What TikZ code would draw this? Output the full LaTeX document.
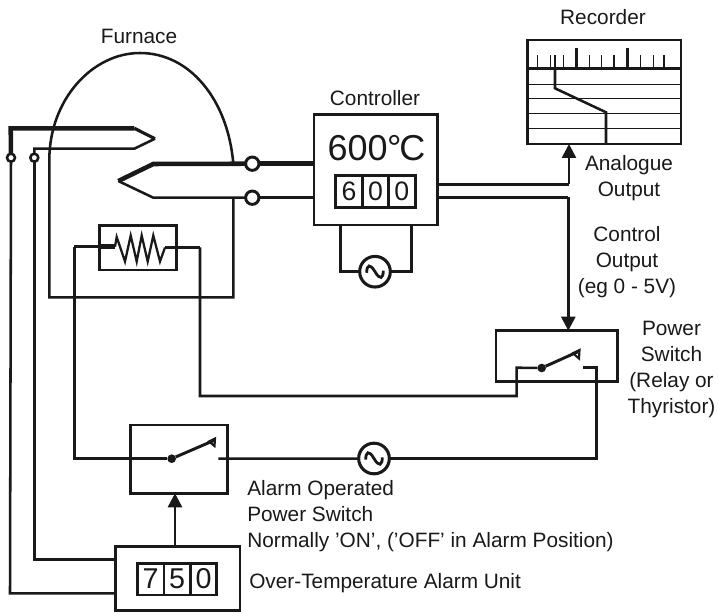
\documentclass[tikz,border=0pt]{standalone}
\usepackage{fontspec}
\setmainfont{Liberation Sans}
\usetikzlibrary{arrows.meta}
\definecolor{ink}{gray}{0.1}
\tikzset{
  x=0.75pt,y=-0.75pt,
  wire/.style={draw=ink,line width=1.9pt},
  thick wire/.style={draw=ink,line width=3.4pt},
  fine/.style={draw=ink,line width=1.1pt},
  arrowed/.style={wire,-{Triangle[length=10.5pt,width=10.5pt]}},
  box/.style={draw=ink,line width=2pt,rectangle,inner sep=0pt,outer sep=0pt,anchor=north west,fill=none},
  cell/.style={box,anchor=north west,text=ink,font=\fontsize{20}{20}\selectfont,align=center},
  label/.style={text=ink,font=\fontsize{15.6}{19.5}\selectfont,inner sep=0pt,align=center},
  leftlabel/.style={label,anchor=west,align=left},
  acsource/.style={circle,draw=ink,line width=2.3pt,fill=white,minimum size=23pt,inner sep=0pt,outer sep=0pt},
  terminal/.style={circle,draw=ink,line width=2.2pt,fill=white,minimum size=10pt,inner sep=0pt,outer sep=0pt},
  smallterm/.style={circle,draw=ink,line width=1.9pt,fill=white,minimum size=6pt,inner sep=0pt,outer sep=0pt},
  pivot/.style={circle,fill=ink,minimum size=6.5pt,inner sep=0pt,outer sep=0pt},
}
\newcommand{\wavesym}[1]{\draw[ink,line width=2.1pt] ([shift={(-6.2pt,-0.8pt)}]#1.center) .. controls +(0pt,6pt) and +(-3.8pt,6.5pt) .. (#1.center) .. controls +(3.8pt,-6.5pt) and +(0pt,-6pt) .. ([shift={(6.2pt,0.8pt)}]#1.center);}
\begin{document}
\begin{tikzpicture}
\useasboundingbox (0,0) rectangle (718,613);
% ----- boxes
\node[box,minimum width=92.5pt,minimum height=83pt] (ctrl) at (314,114.3) {};
\node[box,minimum width=115pt,minimum height=78pt] (rec) at (527.7,40) {};
\node[box,minimum width=91pt,minimum height=38.2pt] (pswitch) at (496,330.7) {};
\node[box,minimum width=72.7pt,minimum height=51.2pt] (aswitch) at (130.7,425) {};
\node[box,minimum width=93.2pt,minimum height=48pt] (alarm) at (115.7,546.7) {};
\node[box,minimum width=58pt,minimum height=33.2pt] (heater) at (99.3,225.7) {};
% ----- displays
\node[cell,minimum width=20pt,minimum height=24pt] (d1) at (335.7,175.7) {6};
\node[cell,minimum width=19.2pt,minimum height=24pt] (d2) at (362.7,175.7) {0};
\node[cell,minimum width=20.2pt,minimum height=24pt] (d3) at (388.3,175.7) {0};
\node[cell,minimum width=20pt,minimum height=23.7pt,font=\fontsize{21.5}{22}\selectfont] (a1) at (137.3,563.3) {7};
\node[cell,minimum width=19.8pt,minimum height=23.7pt,font=\fontsize{21.5}{22}\selectfont] (a2) at (164,563.3) {5};
\node[cell,minimum width=19.8pt,minimum height=23.7pt,font=\fontsize{21.5}{22}\selectfont] (a3) at (190.4,563.3) {0};
\node[text=ink,inner sep=0pt,font=\fontsize{27}{28}\selectfont] (temp) at (376.5,148) {600\kern-0.5pt°\kern-1.5pt C};
% ----- furnace
\coordinate (fBL) at (49.3,297.3);
\coordinate (fBR) at (233.3,297.3);
\coordinate (fTL) at (49.3,160);
\coordinate (fTR) at (233.3,163.7);
\coordinate (fTop) at (140,53);
\coordinate (fR2) at (233.3,197.7);
\draw[wire] (fTR) .. controls (228,100) and (190,53) .. (fTop) .. controls (92,53) and (49.3,100) .. (fTL) -- (fBL) -- (fBR) -- (fR2);
% ----- control thermocouple
\node[terminal] (t1) at (252.3,163.7) {};
\node[terminal] (t2) at (252.3,197.7) {};
\coordinate (cTip) at (118.3,181);
\coordinate (cUp) at (153.3,164);
\coordinate (cLo) at (153.3,197.7);
\draw[thick wire] (t1) -- (cUp) -- (cTip);
\draw[wire] (cTip) -- (cLo) -- (t2);
\draw[thick wire] (t1) -- (ctrl.west |- t1);
\draw[wire] (t2) -- (ctrl.west |- t2);
% ----- over-temperature thermocouple
\node[smallterm] (s1) at (11,157.7) {};
\node[smallterm] (s2) at (34.3,157.7) {};
\coordinate (oCorner) at (10.7,128.3);
\coordinate (oUp) at (134.3,128.3);
\coordinate (oTip) at (155,138.7);
\coordinate (oLo) at (134.3,148.7);
\coordinate (oCorner2) at (34.3,148.7);
\coordinate (aL1) at (10,593.3);
\coordinate (aL2) at (34.3,559.3);
\draw[thick wire] (s1) -- (oCorner) -- (oUp);
\draw[thick wire,line width=2.4pt] (oUp) -- (oTip);
\draw[wire] (oTip) -- (oLo) -- (oCorner2) -- (s2);
\draw[wire] (s1) -- (aL1) -- (alarm.west |- aL1);
\draw[wire] (s2) -- (aL2) -- (alarm.west |- aL2);
% ----- heater
\coordinate (hL) at (115,246.7);
\coordinate (hR) at (165,247.5);
\coordinate (hLout) at (74.3,246.7);
\coordinate (hRout) at (200,247.5);
\draw[wire] (hLout) -- (hL);
\draw[thick wire] (99.3,246.7) -- (hL);
\draw[ink,line width=1.7pt] (hL) -- (116.7,237) -- (125,261.5) -- (130.7,235.5) -- (136.7,261.5) -- (141.7,235.5) -- (147.7,261.5) -- (153.3,235.5) -- (160,261.5) -- (hR);
\draw[wire] (hR) -- (hRout);
% ----- AC sources
\node[acsource] (acC) at (375,271.7) {};
\node[acsource] (acA) at (374,458.5) {};
\wavesym{acC}
\wavesym{acA}
\coordinate (cPL) at (340.7,271.7);
\coordinate (cPR) at (411.7,271.7);
\draw[wire] (acC) -- (cPL) -- (cPL |- ctrl.south);
\draw[wire] (acC) -- (cPR) -- (cPR |- ctrl.south);
% ----- recorder inside
\draw[draw=ink,line width=2.4pt] (rec.west |- 0,68.3) -- (rec.east |- 0,68.3);
\foreach \y in {84.3,98.7,113.3,128.3} \draw[fine] (rec.west |- 0,\y) -- (rec.east |- 0,\y);
\foreach \x in {537.7,550.7,555,563.7,589.3,601.7,614,640.7,653.3,664}{\draw[fine] (\x,55) -- (\x,68.3);}
\draw[wire] (576.7,47.7) -- (576.7,68.3);
\draw[wire] (627.3,47.7) -- (627.3,68.3);
\draw[wire] (555,68.3) -- (555,88.3) -- (606,112.3) -- (606,144.3);
% ----- outputs
\coordinate (aoBend) at (569,184.3);
\coordinate (coBend) at (568.3,197.3);
\draw[wire] (ctrl.east |- aoBend) -- (aoBend);
\draw[arrowed] (aoBend) -- (aoBend |- rec.south);
\draw[wire] (ctrl.east |- coBend) -- (coBend);
\draw[arrowed] (coBend) -- (coBend |- pswitch.north);
% ----- power switch
\node[pivot] (pp) at (541.7,368) {};
\coordinate (pArm) at (578,351.7);
\coordinate (pC) at (583,367.7);
\coordinate (pCb) at (596.7,367.7);
\coordinate (pW) at (516.7,367.7);
\coordinate (pWb) at (516.7,396);
\coordinate (pD) at (596.7,458.5);
\draw[draw=ink,line width=2.2pt] (pp) -- (pArm);
\draw[ink,line width=1.6pt] (573,353.3) -- (579.5,350) -- (579,358.5) -- cycle;
\draw[wire] (pp) -- (pW) -- (pWb) -- (hRout |- pWb) -- (hRout);
\draw[wire] (pC) -- (pCb) -- (pD) -- (acA);
% ----- alarm switch
\node[pivot] (ap) at (171.7,458.7) {};
\coordinate (aArm) at (215,440);
\coordinate (aC) at (218.3,458.7);
\coordinate (aCorner) at (74.3,458.7);
\draw[draw=ink,line width=2.2pt] (ap) -- (aArm);
\draw[ink,line width=1.6pt] (209,441.5) -- (215,438.5) -- (214.5,446) -- cycle;
\draw[wire] (ap) -- (aCorner) -- (hLout);
\draw[wire] (aC) -- (acA);
\draw[arrowed] (alarm.north -| 175,0) -- (aswitch.south -| 175,0);
% ----- labels
\node[label] (lF) at (139,36) {Furnace};
\node[label] (lC) at (375,98) {Controller};
\node[label] (lR) at (603,17) {Recorder};
\node[label] (lA) at (629,178) {Analogue\\Output};
\node[label] (lO) at (627,262) {Control\\Output\\(eg 0 - 5V)};
\node[label] (lP) at (671.5,369.5) {Power\\Switch\\(Relay or\\Thyristor)};
\node[leftlabel] (lS) at (247,516) {Alarm Operated\\Power Switch\\Normally ’ON’, (’OFF’ in Alarm Position)};
\node[leftlabel] (lU) at (249,583) {Over-Temperature Alarm Unit};
\end{tikzpicture}
\end{document}
